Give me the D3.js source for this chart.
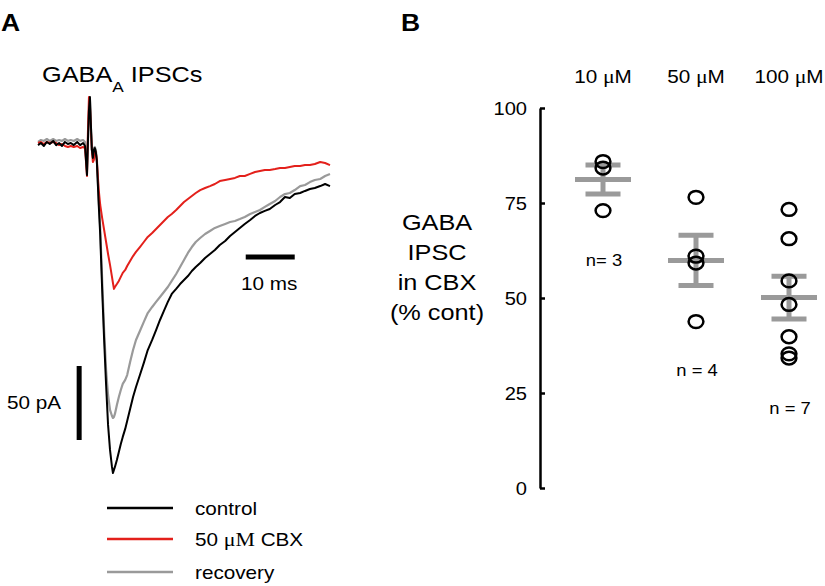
<!DOCTYPE html>
<html>
<head>
<meta charset="utf-8">
<script src="https://cdn.jsdelivr.net/npm/d3@7"></script>
<style>
  html, body { margin: 0; padding: 0; background: #fff; }
  text { font-family: "Liberation Sans", Arial, sans-serif; fill: #000; }
</style>
</head>
<body>
<svg id="chart" width="825" height="586"></svg>
<script>
// ---------------- DATA ----------------
// Panel A: traces (time in ms, current in pA, baseline = 0)
const timeMs = [0,0.6,1.2,1.8,2.4,3.1,3.7,4.3,4.9,5.5,6.1,6.7,7.3,8.0,8.6,9.2,9.6,
  10.0,10.2,10.4,10.6,10.8,11.0,11.2,11.4,11.6,11.8,12.0,
  12.4,12.7,13.1,13.5,13.9,14.3,14.7,15.1,15.3,15.5,15.7,
  16.1,16.5,16.9,17.3,17.8,18.2,18.8,19.4,20.0,
  20.8,21.6,22.4,23.3,24.1,24.9,25.7,26.5,27.3,28.2,29.0,29.8,30.6,31.4,32.2,
  33.1,34.1,35.1,36.1,37.1,38.2,39.2,40.2,41.2,42.2,43.3,44.3,45.3,46.3,47.3,48.4,49.4,50.4,51.4,52.4,53.5,54.5,55.5,56.5,57.6,58.6,59.6];

const controlPA = [-1.4,0,-2.0,0.7,-0.7,1.4,-1.4,0,-2.0,0.7,-0.7,0,-1.4,0.7,-1.4,0,-2.0,
  -21.6,2.0,22.3,31.1,12.2,-4.7,-10.1,-4.7,-3.4,-6.1,-11.5,
  -41.9,-62.2,-99.3,-133.1,-163.5,-190.5,-207.4,-218.9,-223.0,-220.9,-218.9,
  -214.2,-208.8,-203.4,-198.6,-193.2,-187.8,-179.7,-171.6,-164.9,
  -156.8,-148.6,-139.9,-133.1,-126.4,-119.6,-113.5,-107.4,-102.0,-98.6,-95.3,-92.6,-89.9,-86.5,-83.8,
  -81.1,-77.7,-75.0,-72.3,-68.9,-66.2,-62.8,-60.1,-57.4,-54.7,-52.0,-49.3,-47.3,-45.9,-44.6,-41.9,-39.9,-36.5,-37.2,-34.5,-33.8,-32.4,-31.1,-30.4,-29.1,-27.7,-29.1];

const cbxPA = [0,0.7,-0.7,0.7,0,0.7,0,-1.4,-0.7,-2.0,-2.7,-2.0,-2.7,-2.0,-3.4,-2.7,-3.4,
  -22.3,8.8,31.1,25.7,8.8,-4.7,-12.8,-11.5,-4.7,-6.1,-11.5,
  -31.8,-41.9,-50.7,-58.8,-66.9,-75.0,-82.4,-90.5,-94.6,-98.6,-97.3,
  -95.3,-93.2,-90.5,-87.8,-85.8,-83.1,-79.7,-76.4,-73.6,
  -70.3,-66.9,-63.5,-60.8,-58.1,-55.4,-52.7,-50.0,-48.0,-45.3,-42.6,-39.9,-37.8,-35.8,-33.8,
  -31.8,-30.4,-29.1,-27.7,-25.7,-25.0,-24.3,-23.6,-22.3,-22.3,-20.9,-19.6,-18.9,-18.2,-18.2,-17.6,-16.9,-16.9,-16.2,-15.5,-15.5,-14.9,-14.9,-14.2,-12.8,-13.5,-14.9];

const recoveryPA = [0.7,2.0,1.4,2.7,1.4,2.7,1.4,2.0,1.4,2.7,1.4,2.0,1.4,2.7,1.4,2.0,0.7,
  -18.2,2.0,20.9,29.7,10.1,-4.7,-8.1,-3.4,-2.7,-4.7,-10.1,
  -38.5,-57.4,-92.6,-126.4,-153.4,-170.3,-180.4,-184.5,-185.8,-185.1,-183.1,
  -177.0,-171.6,-166.9,-162.8,-160.1,-156.8,-148.0,-139.9,-133.1,
  -127.0,-120.9,-114.9,-110.8,-107.4,-104.1,-100.7,-97.3,-93.2,-88.5,-83.8,-79.1,-74.3,-70.3,-66.9,
  -64.2,-61.5,-59.5,-57.4,-56.1,-54.7,-53.4,-52.7,-51.4,-50.0,-48.0,-46.6,-45.3,-43.2,-41.2,-39.2,-36.5,-34.5,-33.8,-31.8,-29.1,-28.4,-26.4,-25.0,-24.3,-22.3,-20.9];

const traceNames = ["control", "50 μM CBX", "recovery"];
// scale bars (data units)
const timeBarMs = 10, timeBarStart = 42.4, timeBarLevel = -77;
const currBarPA = 50, currBarTime = 8.4, currBarTop = -150.7;

// Panel B: GABA IPSC in CBX (% of control)
const concLabels = ["10 μM", "50 μM", "100 μM"];
const vals10 = [85.9, 84.2, 73.0];
const vals50 = [76.5, 61.0, 59.2, 43.8];
const vals100 = [73.3, 65.6, 54.5, 48.3, 39.8, 35.3, 34.2];
const means = [81.2, 59.9, 50.1];
const sems = [3.8, 6.6, 5.6];
const nLabels = ["n= 3", "n = 4", "n = 7"];
const nLabelLevel = [60, 31, 21];
const yTicks = [0, 25, 50, 75, 100];

// ---------------- DRAW ----------------
const SX = 1.15;
const svg = d3.select("#chart");
const RED = "#e3201b", GRAY = "#9a9a9a";

function txt(g, x, y, s, o = {}) {
  return g.append("text")
    .attr("transform", `translate(${x},${y}) scale(${SX},1)`)
    .attr("text-anchor", o.anchor || "start")
    .attr("font-size", o.size || 18)
    .attr("font-weight", o.weight || "normal")
    .text(s);
}

// panel letters
txt(svg, 1, 31, "A", {size: 23, weight: "bold"});
txt(svg, 401, 31, "B", {size: 23, weight: "bold"});

// ---- Panel A ----
const x = d3.scaleLinear().domain([0, 59.6]).range([38, 330]);
const y = d3.scaleLinear().domain([0, -223]).range([143, 473]);

const title = svg.append("text")
  .attr("transform", `translate(42,82) scale(${SX},1)`)
  .attr("font-size", 22);
title.append("tspan").text("GABA");
title.append("tspan").attr("font-size", 15).attr("dy", 10).text("A");
title.append("tspan").attr("dy", -10).text(" IPSCs");

const line = d3.line().x(d => x(d[0])).y(d => y(d[1]));
const traces = [
  {vals: recoveryPA, color: GRAY, w: 2.2},
  {vals: cbxPA, color: RED, w: 2},
  {vals: controlPA, color: "#000", w: 2}
];
traces.forEach(t => {
  svg.append("path")
    .datum(timeMs.map((tm, i) => [tm, t.vals[i]]))
    .attr("d", line)
    .attr("fill", "none")
    .attr("stroke", t.color)
    .attr("stroke-width", t.w)
    .attr("stroke-linejoin", "round");
});

// scale bars
svg.append("line")
  .attr("x1", x(timeBarStart)).attr("x2", x(timeBarStart + timeBarMs))
  .attr("y1", y(timeBarLevel)).attr("y2", y(timeBarLevel))
  .attr("stroke", "#000").attr("stroke-width", 5);
txt(svg, (x(timeBarStart) + x(timeBarStart + timeBarMs)) / 2 - 1, y(timeBarLevel) + 33, "10 ms", {size: 18, anchor: "middle"});

svg.append("line")
  .attr("x1", x(currBarTime)).attr("x2", x(currBarTime))
  .attr("y1", y(currBarTop)).attr("y2", y(currBarTop - currBarPA))
  .attr("stroke", "#000").attr("stroke-width", 5);
txt(svg, 7, (y(currBarTop) + y(currBarTop - currBarPA)) / 2 + 6, "50 pA", {size: 18});

// legend
const legColors = ["#000", RED, GRAY];
const legY = [508, 539, 572];
traceNames.forEach((n, i) => {
  svg.append("line").attr("x1", 107).attr("x2", 173)
    .attr("y1", legY[i]).attr("y2", legY[i])
    .attr("stroke", legColors[i]).attr("stroke-width", 2.5);
  const t = svg.append("text")
    .attr("transform", `translate(195,${legY[i] + 6.5}) scale(${SX},1)`)
    .attr("font-size", 18);
  if (n.includes("μM")) {
    const parts = n.split("μM");
    t.append("tspan").text(parts[0]);
    t.append("tspan").style("font-family", "'Liberation Serif', 'Times New Roman', serif").attr("font-size", 19).text("μM");
    t.append("tspan").text(parts[1]);
  } else {
    t.text(n);
  }
});

// ---- Panel B ----
const yB = d3.scaleLinear().domain([0, 100]).range([488, 108]);
const xB = d3.scalePoint().domain(concLabels).range([603, 789]);
const axisX = 540;

const axis = svg.append("g").attr("transform", `translate(${axisX},0)`)
  .call(d3.axisLeft(yB).tickValues(yTicks).tickSizeInner(-5).tickSizeOuter(0).tickPadding(13).tickFormat(d3.format("d")));
axis.selectAll("path.domain, .tick line").attr("stroke", "#000").attr("stroke-width", 2.5);
axis.selectAll(".tick text")
  .attr("font-size", 17.5).attr("font-family", "Liberation Sans, Arial, sans-serif").attr("fill", "#000")
  .attr("dy", "0.36em")
  .attr("x", -13 / SX)
  .attr("transform", `scale(${SX},1)`);

// y label
["GABA", "IPSC", "in CBX", "(% cont)"].forEach((s, i) => {
  txt(svg, 437, 230 + i * 30, s, {size: 22, anchor: "middle"});
});

// concentration labels
concLabels.forEach(c => {
  const t = svg.append("text")
    .attr("transform", `translate(${xB(c)},83) scale(${SX},1)`)
    .attr("text-anchor", "middle").attr("font-size", 18);
  const [num] = c.split(" ");
  t.append("tspan").text(num + " ");
  t.append("tspan").style("font-family", "'Liberation Serif', 'Times New Roman', serif").attr("font-size", 19).text("μ");
  t.append("tspan").text("M");
});

const groups = [vals10, vals50, vals100];
groups.forEach((vals, gi) => {
  const cx = xB(concLabels[gi]);
  const g = svg.append("g");
  // SEM stem
  g.append("line").attr("x1", cx).attr("x2", cx)
    .attr("y1", yB(means[gi] + sems[gi])).attr("y2", yB(means[gi] - sems[gi]))
    .attr("stroke", GRAY).attr("stroke-width", 5);
  [means[gi] + sems[gi], means[gi] - sems[gi]].forEach(v => {
    g.append("line").attr("x1", cx - 17.5).attr("x2", cx + 17.5)
      .attr("y1", yB(v)).attr("y2", yB(v))
      .attr("stroke", GRAY).attr("stroke-width", 5);
  });
  g.append("line").attr("x1", cx - 28).attr("x2", cx + 28)
    .attr("y1", yB(means[gi])).attr("y2", yB(means[gi]))
    .attr("stroke", GRAY).attr("stroke-width", 5);
  // points
  g.selectAll("ellipse").data(vals).join("ellipse")
    .attr("cx", cx).attr("cy", d => yB(d))
    .attr("rx", 7.4).attr("ry", 6.4)
    .attr("fill", "none").attr("stroke", "#000").attr("stroke-width", 2.5);
  // n label
  txt(svg, cx + 1, yB(nLabelLevel[gi]) + 6, nLabels[gi], {size: 16, anchor: "middle"});
});
</script>
</body>
</html>
